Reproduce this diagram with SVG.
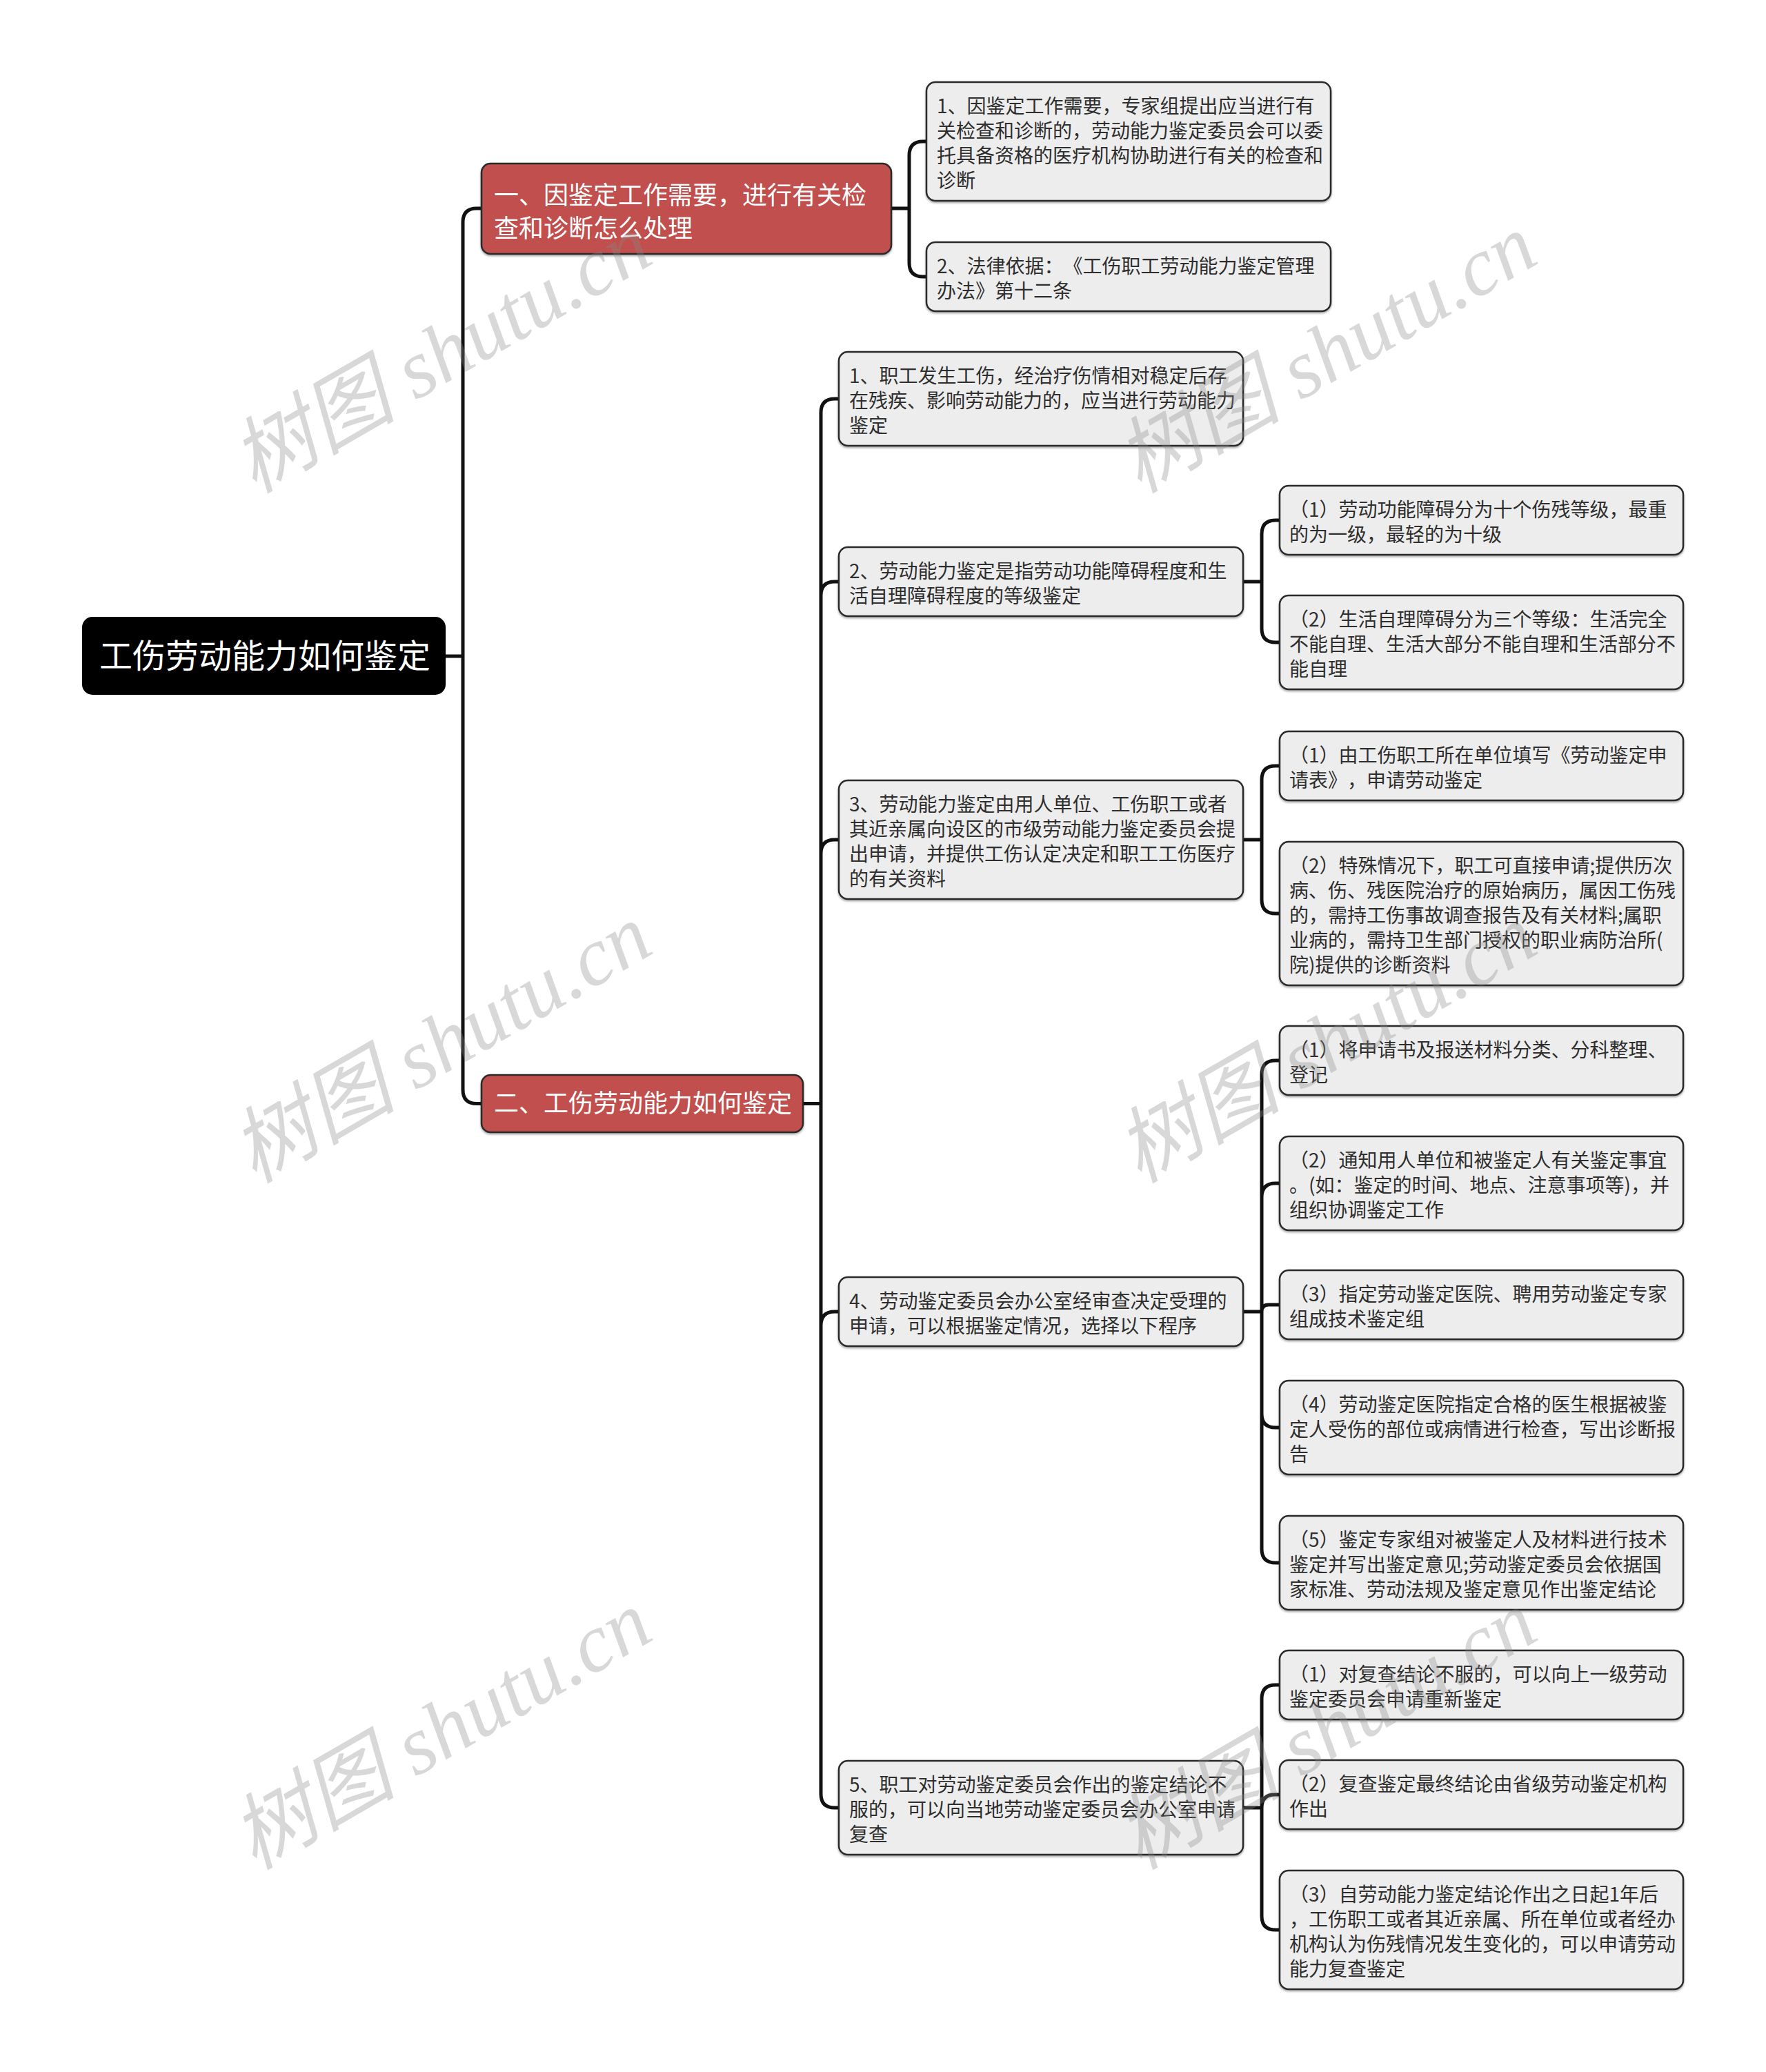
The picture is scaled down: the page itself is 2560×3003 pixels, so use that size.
<svg xmlns="http://www.w3.org/2000/svg" width="2560" height="3003" viewBox="0 0 2560 3003">
<style>
svg{text-spacing-trim:space-all}
.bg{fill:#ffffff}
.box{fill:#EDEDED;stroke:#2b2b2b;stroke-width:2.5}
.red{fill:#C0504D;stroke:#2b2b2b;stroke-width:2.5}
.root{fill:#000000}
.t{font-family:"Noto Sans CJK SC","Noto Sans",sans-serif;font-size:28px;fill:#2e2e2e;text-spacing-trim:space-all}
.t1{font-family:"Noto Sans CJK SC","Noto Sans",sans-serif;font-size:36px;fill:#ffffff;text-spacing-trim:space-all}
.t0{font-family:"Noto Sans CJK SC","Noto Sans",sans-serif;font-size:48px;fill:#ffffff}
.ln{fill:none;stroke:#111111;stroke-width:5;stroke-linejoin:round}
.wm{font-family:"Liberation Serif","Noto Sans CJK SC",serif;font-style:italic;font-size:120px;fill:#888888;fill-opacity:0.33;text-anchor:middle}
</style>
<defs>
<filter id="sh" x="-5%" y="-10%" width="110%" height="130%">
<feDropShadow dx="0" dy="2" stdDeviation="1.5" flood-color="#000" flood-opacity="0.35"/>
</filter>
</defs>
<rect class="bg" x="0" y="0" width="2560" height="3003"/>

<g id="connectors">
<path class="ln" d="M646 951 H671 M671 951 V322 Q671 302 691 302 H698 M671 951 V1579.5 Q671 1599.5 691 1599.5 H698"/>
<path class="ln" d="M1292 302 H1318 M1318 302 V225 Q1318 205 1338 205 H1343 M1318 302 V381 Q1318 401 1338 401 H1343"/>
<path class="ln" d="M1164 1599.5 H1190 M1190 1599.5 V598 Q1190 578 1210 578 H1216 M1190 1599.5 V863 Q1190 843 1210 843 H1216 M1190 1599.5 V1237 Q1190 1217 1210 1217 H1216 M1190 1599.5 V1921 Q1190 1901 1210 1901 H1216 M1190 1599.5 V2600 Q1190 2620 1210 2620 H1216"/>
<path class="ln" d="M1802 843 H1829 M1829 843 V774 Q1829 754 1849 754 H1855 M1829 843 V911 Q1829 931 1849 931 H1855"/>
<path class="ln" d="M1802 1217 H1829 M1829 1217 V1130 Q1829 1110 1849 1110 H1855 M1829 1217 V1304 Q1829 1324 1849 1324 H1855"/>
<path class="ln" d="M1802 1901 H1829 M1829 1901 V1557 Q1829 1537 1849 1537 H1855 M1829 1901 V1735 Q1829 1715 1849 1715 H1855 M1829 1901 Q1829 1891 1839 1891 H1855 M1829 1901 V2049 Q1829 2069 1849 2069 H1855 M1829 1901 V2245 Q1829 2265 1849 2265 H1855"/>
<path class="ln" d="M1802 2620 H1829 M1829 2620 V2462 Q1829 2442 1849 2442 H1855 M1829 2620 Q1829 2601 1848 2601 H1855 M1829 2620 V2777 Q1829 2797 1849 2797 H1855"/>
</g>

<g id="root">
<rect class="root" x="119" y="894" width="527" height="113" rx="15"/>
<text class="t0" x="144" y="968">工伤劳动能力如何鉴定</text>
</g>

<g id="n1">
<rect class="red" x="698" y="237" width="594" height="131" rx="13" filter="url(#sh)"/>
<text class="t1" x="716" y="296">一、因鉴定工作需要，进行有关检<tspan x="716" dy="48">查和诊断怎么处理</tspan></text>
</g>

<g id="n2">
<rect class="red" x="698" y="1558" width="466" height="83" rx="13" filter="url(#sh)"/>
<text class="t1" x="716" y="1612">二、工伤劳动能力如何鉴定</text>
</g>

<g id="a1">
<rect class="box" x="1343" y="119" width="586" height="172" rx="13" filter="url(#sh)"/>
<text class="t" x="1358" y="164">1、因鉴定工作需要，专家组提出应当进行有<tspan x="1358" dy="36">关检查和诊断的，劳动能力鉴定委员会可以委</tspan><tspan x="1358" dy="36">托具备资格的医疗机构协助进行有关的检查和</tspan><tspan x="1358" dy="36">诊断</tspan></text>
</g>

<g id="a2">
<rect class="box" x="1343" y="351" width="586" height="100" rx="13" filter="url(#sh)"/>
<text class="t" x="1358" y="396">2、法律依据：《工伤职工劳动能力鉴定管理<tspan x="1358" dy="36">办法》第十二条</tspan></text>
</g>

<g id="b1">
<rect class="box" x="1216" y="510" width="586" height="136" rx="13" filter="url(#sh)"/>
<text class="t" x="1231" y="555">1、职工发生工伤，经治疗伤情相对稳定后存<tspan x="1231" dy="36">在残疾、影响劳动能力的，应当进行劳动能力</tspan><tspan x="1231" dy="36">鉴定</tspan></text>
</g>

<g id="b2">
<rect class="box" x="1216" y="793" width="586" height="100" rx="13" filter="url(#sh)"/>
<text class="t" x="1231" y="838">2、劳动能力鉴定是指劳动功能障碍程度和生<tspan x="1231" dy="36">活自理障碍程度的等级鉴定</tspan></text>
</g>

<g id="c1">
<rect class="box" x="1855" y="704" width="585" height="100" rx="13" filter="url(#sh)"/>
<text class="t" x="1869" y="749">（1）劳动功能障碍分为十个伤残等级，最重<tspan x="1869" dy="36">的为一级，最轻的为十级</tspan></text>
</g>

<g id="c2">
<rect class="box" x="1855" y="863" width="585" height="136" rx="13" filter="url(#sh)"/>
<text class="t" x="1869" y="908">（2）生活自理障碍分为三个等级：生活完全<tspan x="1869" dy="36">不能自理、生活大部分不能自理和生活部分不</tspan><tspan x="1869" dy="36">能自理</tspan></text>
</g>

<g id="b3">
<rect class="box" x="1216" y="1131" width="586" height="172" rx="13" filter="url(#sh)"/>
<text class="t" x="1231" y="1176">3、劳动能力鉴定由用人单位、工伤职工或者<tspan x="1231" dy="36">其近亲属向设区的市级劳动能力鉴定委员会提</tspan><tspan x="1231" dy="36">出申请，并提供工伤认定决定和职工工伤医疗</tspan><tspan x="1231" dy="36">的有关资料</tspan></text>
</g>

<g id="d1">
<rect class="box" x="1855" y="1060" width="585" height="100" rx="13" filter="url(#sh)"/>
<text class="t" x="1869" y="1105">（1）由工伤职工所在单位填写《劳动鉴定申<tspan x="1869" dy="36">请表》，申请劳动鉴定</tspan></text>
</g>

<g id="d2">
<rect class="box" x="1855" y="1220" width="585" height="208" rx="13" filter="url(#sh)"/>
<text class="t" x="1869" y="1265">（2）特殊情况下，职工可直接申请;提供历次<tspan x="1869" dy="36">病、伤、残医院治疗的原始病历，属因工伤残</tspan><tspan x="1869" dy="36">的，需持工伤事故调查报告及有关材料;属职</tspan><tspan x="1869" dy="36">业病的，需持卫生部门授权的职业病防治所(</tspan><tspan x="1869" dy="36">院)提供的诊断资料</tspan></text>
</g>

<g id="b4">
<rect class="box" x="1216" y="1851" width="586" height="100" rx="13" filter="url(#sh)"/>
<text class="t" x="1231" y="1896">4、劳动鉴定委员会办公室经审查决定受理的<tspan x="1231" dy="36">申请，可以根据鉴定情况，选择以下程序</tspan></text>
</g>

<g id="e1">
<rect class="box" x="1855" y="1487" width="585" height="100" rx="13" filter="url(#sh)"/>
<text class="t" x="1869" y="1532">（1）将申请书及报送材料分类、分科整理、<tspan x="1869" dy="36">登记</tspan></text>
</g>

<g id="e2">
<rect class="box" x="1855" y="1647" width="585" height="136" rx="13" filter="url(#sh)"/>
<text class="t" x="1869" y="1692">（2）通知用人单位和被鉴定人有关鉴定事宜<tspan x="1869" dy="36">。(如：鉴定的时间、地点、注意事项等)，并</tspan><tspan x="1869" dy="36">组织协调鉴定工作</tspan></text>
</g>

<g id="e3">
<rect class="box" x="1855" y="1841" width="585" height="100" rx="13" filter="url(#sh)"/>
<text class="t" x="1869" y="1886">（3）指定劳动鉴定医院、聘用劳动鉴定专家<tspan x="1869" dy="36">组成技术鉴定组</tspan></text>
</g>

<g id="e4">
<rect class="box" x="1855" y="2001" width="585" height="136" rx="13" filter="url(#sh)"/>
<text class="t" x="1869" y="2046">（4）劳动鉴定医院指定合格的医生根据被鉴<tspan x="1869" dy="36">定人受伤的部位或病情进行检查，写出诊断报</tspan><tspan x="1869" dy="36">告</tspan></text>
</g>

<g id="e5">
<rect class="box" x="1855" y="2197" width="585" height="136" rx="13" filter="url(#sh)"/>
<text class="t" x="1869" y="2242">（5）鉴定专家组对被鉴定人及材料进行技术<tspan x="1869" dy="36">鉴定并写出鉴定意见;劳动鉴定委员会依据国</tspan><tspan x="1869" dy="36">家标准、劳动法规及鉴定意见作出鉴定结论</tspan></text>
</g>

<g id="b5">
<rect class="box" x="1216" y="2552" width="586" height="136" rx="13" filter="url(#sh)"/>
<text class="t" x="1231" y="2597">5、职工对劳动鉴定委员会作出的鉴定结论不<tspan x="1231" dy="36">服的，可以向当地劳动鉴定委员会办公室申请</tspan><tspan x="1231" dy="36">复查</tspan></text>
</g>

<g id="f1">
<rect class="box" x="1855" y="2392" width="585" height="100" rx="13" filter="url(#sh)"/>
<text class="t" x="1869" y="2437">（1）对复查结论不服的，可以向上一级劳动<tspan x="1869" dy="36">鉴定委员会申请重新鉴定</tspan></text>
</g>

<g id="f2">
<rect class="box" x="1855" y="2551" width="585" height="100" rx="13" filter="url(#sh)"/>
<text class="t" x="1869" y="2596">（2）复查鉴定最终结论由省级劳动鉴定机构<tspan x="1869" dy="36">作出</tspan></text>
</g>

<g id="f3">
<rect class="box" x="1855" y="2711" width="585" height="172" rx="13" filter="url(#sh)"/>
<text class="t" x="1869" y="2756">（3）自劳动能力鉴定结论作出之日起1年后<tspan x="1869" dy="36">，工伤职工或者其近亲属、所在单位或者经办</tspan><tspan x="1869" dy="36">机构认为伤残情况发生变化的，可以申请劳动</tspan><tspan x="1869" dy="36">能力复查鉴定</tspan></text>
</g>

<g id="watermarks">
<text class="wm" transform="translate(640 513) rotate(-30)" x="0" y="40">树图 shutu.cn</text>
<text class="wm" transform="translate(1923 513) rotate(-30)" x="0" y="40">树图 shutu.cn</text>
<text class="wm" transform="translate(640 1513) rotate(-30)" x="0" y="40">树图 shutu.cn</text>
<text class="wm" transform="translate(1923 1513) rotate(-30)" x="0" y="40">树图 shutu.cn</text>
<text class="wm" transform="translate(640 2508) rotate(-30)" x="0" y="40">树图 shutu.cn</text>
<text class="wm" transform="translate(1923 2508) rotate(-30)" x="0" y="40">树图 shutu.cn</text>
</g>
</svg>
